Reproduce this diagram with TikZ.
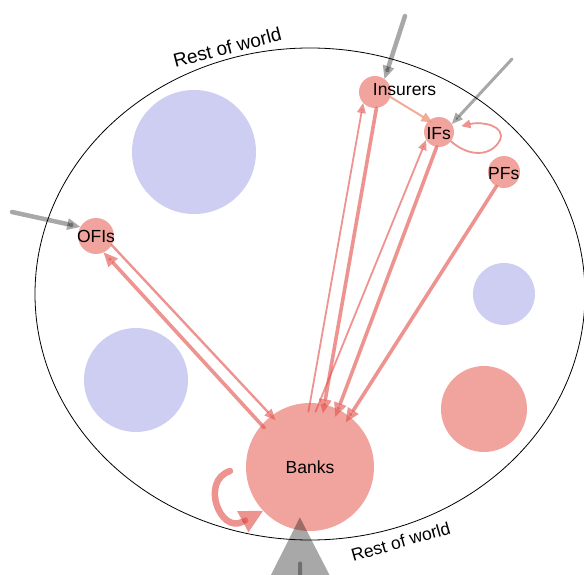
\documentclass[tikz,border=0pt]{standalone}
\usepackage{fontspec}
\setmainfont{Liberation Sans}
\usetikzlibrary{arrows.meta}
\definecolor{nodered}{RGB}{241,164,158}
\definecolor{nodeblue}{RGB}{205,206,242}
\definecolor{linkred}{RGB}{226,82,76}
\definecolor{linklight}{RGB}{240,150,122}
\begin{document}
\begin{tikzpicture}[x=1pt,y=-1pt,
  redc/.style={circle, fill=nodered, inner sep=0pt, draw=none},
  bluec/.style={circle, fill=nodeblue, inner sep=0pt, draw=none},
  lab/.style={font=\fontsize{17.5}{20}\selectfont, inner sep=0pt, text=black},
  worldlab/.style={inner sep=0pt, anchor=base, text=black},
  link/.style={draw=linkred, opacity=0.62, line cap=round},
  thinlink/.style={link, line width=1.8pt, -{Circle[line width=0pt,length=1.8pt,sep=-4pt]Triangle[line width=0pt,length=10pt,width=9pt]}},
  medlink/.style={link, line width=2.4pt, -{Circle[line width=0pt,length=2.4pt,sep=-5pt]Triangle[line width=0pt,length=11pt,width=10pt]}},
  thicklink/.style={link, line width=3.6pt, -{Circle[line width=0pt,length=3.6pt,sep=-6.5pt]Triangle[line width=0pt,length=14pt,width=13pt]}},
  lightlink/.style={draw=linklight, opacity=0.8, line cap=round, line width=2pt, -{Triangle[line width=0pt,length=11pt,width=10pt]}},
  greylink/.style={draw=black, opacity=0.34, line cap=round},
]
\useasboundingbox (0,0) rectangle (584,575);

% background circles
\node[bluec, minimum size=124pt] (blueA) at (194,152) {};
\node[bluec, minimum size=104pt] (blueB) at (136,380) {};
\node[bluec, minimum size=62pt] (blueC) at (504,294) {};
\node[redc, minimum size=86pt] (redA) at (484,409) {};

% rest of world boundary
\draw[line width=0.8pt] (310,294) ellipse [x radius=275, y radius=246];
\node[worldlab, font=\fontsize{19}{22}\selectfont, rotate=14.5] (rowTop) at (229,54) {Rest of world};
\node[worldlab, font=\fontsize{17.5}{20}\selectfont, rotate=16] (rowBot) at (402.5,547.5) {Rest of world};

% sector nodes
\node[redc, minimum size=128pt] (banks) at (310,467) {};
\node[redc, minimum size=36pt] (ofis) at (96,236) {};
\node[redc, minimum size=32pt] (insurers) at (375,92) {};
\node[redc, minimum size=30pt] (ifs) at (439,132) {};
\node[redc, minimum size=32pt] (pfs) at (504,172) {};

\node[lab] (banksL) at (310,467.5) {Banks};
\node[lab] (ofisL) at (96,236) {OFIs};
\node[lab] (insurersL) at (404.5,90) {Insurers};
\node[lab] (ifsL) at (438.7,133.5) {IFs};
\node[lab] (pfsL) at (503.7,174) {PFs};

% free ends
\coordinate (insIn) at (405,16);
\coordinate (ifsIn) at (512,59);
\coordinate (ofiIn) at (12,212);
\coordinate (bIn) at (300.5,650);
\coordinate (bloopS) at (230,471);

% grey inflows
\draw[greylink, line width=4.5pt, -{Circle[line width=0pt,length=4.5pt,sep=-6pt]Triangle[line width=0pt,length=13pt,width=12pt]}] (insIn) -- (insurers.54);
\draw[greylink, line width=3pt, -{Circle[line width=0pt,length=3pt,sep=-5pt]Triangle[line width=0pt,length=11pt,width=10pt]}] (ifsIn) -- (ifs.32);
\draw[greylink, line width=4.5pt, -{Circle[line width=0pt,length=4.5pt,sep=-6pt]Triangle[line width=0pt,length=13pt,width=12pt]}] (ofiIn) -- (ofis.150);
\draw[greylink, line width=4pt, shorten >=-13pt, -{Triangle[line width=0pt,length=60pt,width=61pt]}] (bIn) -- (banks.-99);
\draw[greylink, line width=4pt, shorten >=33pt] (bIn) -- (banks.-99);

% red flows
\draw[thicklink, shorten <=-4pt] (banks.139) -- (ofis.-65);
\draw[medlink, shorten >=-6pt] (ofis.-30) -- (banks.127);
\draw[thinlink, shorten <=-9pt] (banks.90) -- (insurers.223);
\draw[thicklink, shorten >=-9pt] (insurers.-85) -- (banks.77);
\draw[thinlink, shorten <=-9pt] (banks.82) -- (ifs.212);
\draw[thicklink, shorten >=-8pt] (ifs.-99) -- (banks.64);
\draw[thicklink, shorten >=-7pt] (pfs.-118) -- (banks.52);
\draw[lightlink, shorten >=-4pt] (insurers.-18) -- (ifs.131);

% self loops
\draw[link, line width=1.8pt, shorten >=8pt, -{Triangle[line width=0pt,length=9pt,width=9pt]}]
  (ifs.-38) .. controls (470,158) and (492,156) .. (500,140)
  .. controls (506,126) and (482,121) .. (ifs.15);
\draw[link, line width=6.5pt, -{Circle[line width=0pt,length=6.5pt,sep=-6pt]Triangle[line width=0pt,length=23pt,width=24pt]}]
  (bloopS) .. controls (200,481) and (220,534) .. (banks.223);
\end{tikzpicture}
\end{document}
